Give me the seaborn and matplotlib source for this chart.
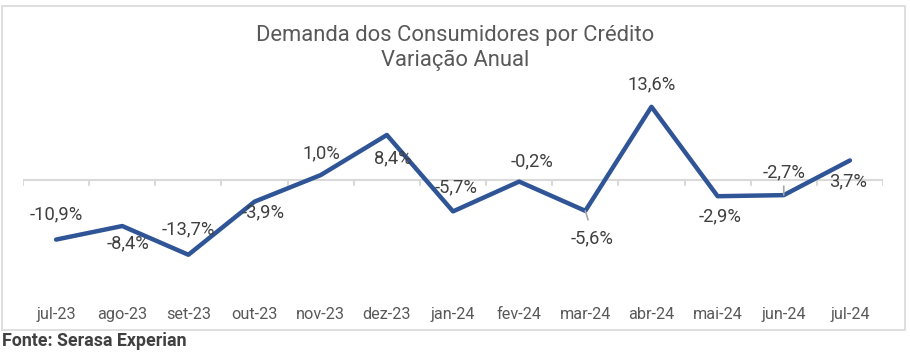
import matplotlib
matplotlib.use("Agg")
import matplotlib.pyplot as plt
import seaborn as sns
import pandas as pd
from matplotlib.patches import Rectangle

months = ["jul-23", "ago-23", "set-23", "out-23", "nov-23", "dez-23", "jan-24",
          "fev-24", "mar-24", "abr-24", "mai-24", "jun-24", "jul-24"]
values = [-10.9, -8.4, -13.7, -3.9, 1.0, 8.4, -5.7, -0.2, -5.6, 13.6, -2.9, -2.7, 3.7]
labels = ["-10,9%", "-8,4%", "-13,7%", "-3,9%", "1,0%", "8,4%", "-5,7%",
          "-0,2%", "-5,6%", "13,6%", "-2,9%", "-2,7%", "3,7%"]

# label offsets in pixels (dx, dy; dy positive = up)
label_offsets = [(0, 25), (6, -17), (0, 25), (9, -11), (1, 22), (6, -23), (3, 24),
                 (13, 20), (7, -28), (0, 22), (2, -20), (0, 23), (-2, -21)]
leaders = {8, 11}

sns.set_theme(style="white")
plt.rcParams["font.family"] = ["Roboto", "DejaVu Sans"]

W, H = 910, 358
fig = plt.figure(figsize=(W / 100, H / 100), dpi=100)
zero_px = 180.5
scale = 5.42
top_px, bot_px = 70, 290
ax = fig.add_axes([23 / W, 1 - bot_px / H, (883 - 23) / W, (bot_px - top_px) / H])

df = pd.DataFrame({"x": range(len(months)), "v": values})
sns.lineplot(data=df, x="x", y="v", ax=ax, color="#2F5597", linewidth=3.2,
             sort=False, zorder=3)

ax.set_xlim(-0.5, len(months) - 0.5)
ax.set_ylim(-(bot_px - zero_px) / scale, (zero_px - top_px) / scale)

# zero axis line with boundary ticks
ax.axhline(0, color="#d9d9d9", lw=1.5, zorder=1)
tick_len = 5 / scale
for b in range(len(months) + 1):
    ax.plot([b - 0.5, b - 0.5], [0, -tick_len], color="#d9d9d9", lw=1.5, zorder=1)

for s in ax.spines.values():
    s.set_visible(False)
ax.set_yticks([])
ax.set_xticks(range(len(months)))
ax.set_xticklabels(months, fontsize=11.7, color="#595959")
ax.tick_params(axis="x", length=0, pad=12)
ax.set_xlabel("")
ax.set_ylabel("")

for i, (v, lab) in enumerate(zip(values, labels)):
    dx, dy = label_offsets[i]
    ax.annotate(lab, (i, v), xytext=(dx * 0.72, dy * 0.72), textcoords="offset points",
                ha="center", va="center", fontsize=13.2, color="#404040", zorder=4)
    if i in leaders:
        sgn = 1 if dy > 0 else -1
        ax.annotate("", (i, v), xytext=(dx * 0.72 * 0.4, sgn * 9 * 0.72),
                    textcoords="offset points",
                    arrowprops=dict(arrowstyle="-", color="#a6a6a6", lw=1.2,
                                    shrinkA=0, shrinkB=0))

fig.text(0.5, 1 - 35 / H, "Demanda dos Consumidores por Crédito", ha="center",
         va="center", fontsize=15.8, color="#595959")
fig.text(0.5, 1 - 60 / H, "Variação Anual", ha="center", va="center",
         fontsize=15.8, color="#595959")

fig.patches.append(Rectangle((2 / W, 1 - 330 / H), (905 - 2) / W, (330 - 6) / H,
                             transform=fig.transFigure, fill=False,
                             edgecolor="#d9d9d9", lw=1.2))

fig.text(2 / W, 1 - 341 / H, "Fonte: Serasa Experian", ha="left", va="center",
         fontsize=12.8, fontweight="bold", color="#404040")

fig.savefig("out.png", dpi=100)
